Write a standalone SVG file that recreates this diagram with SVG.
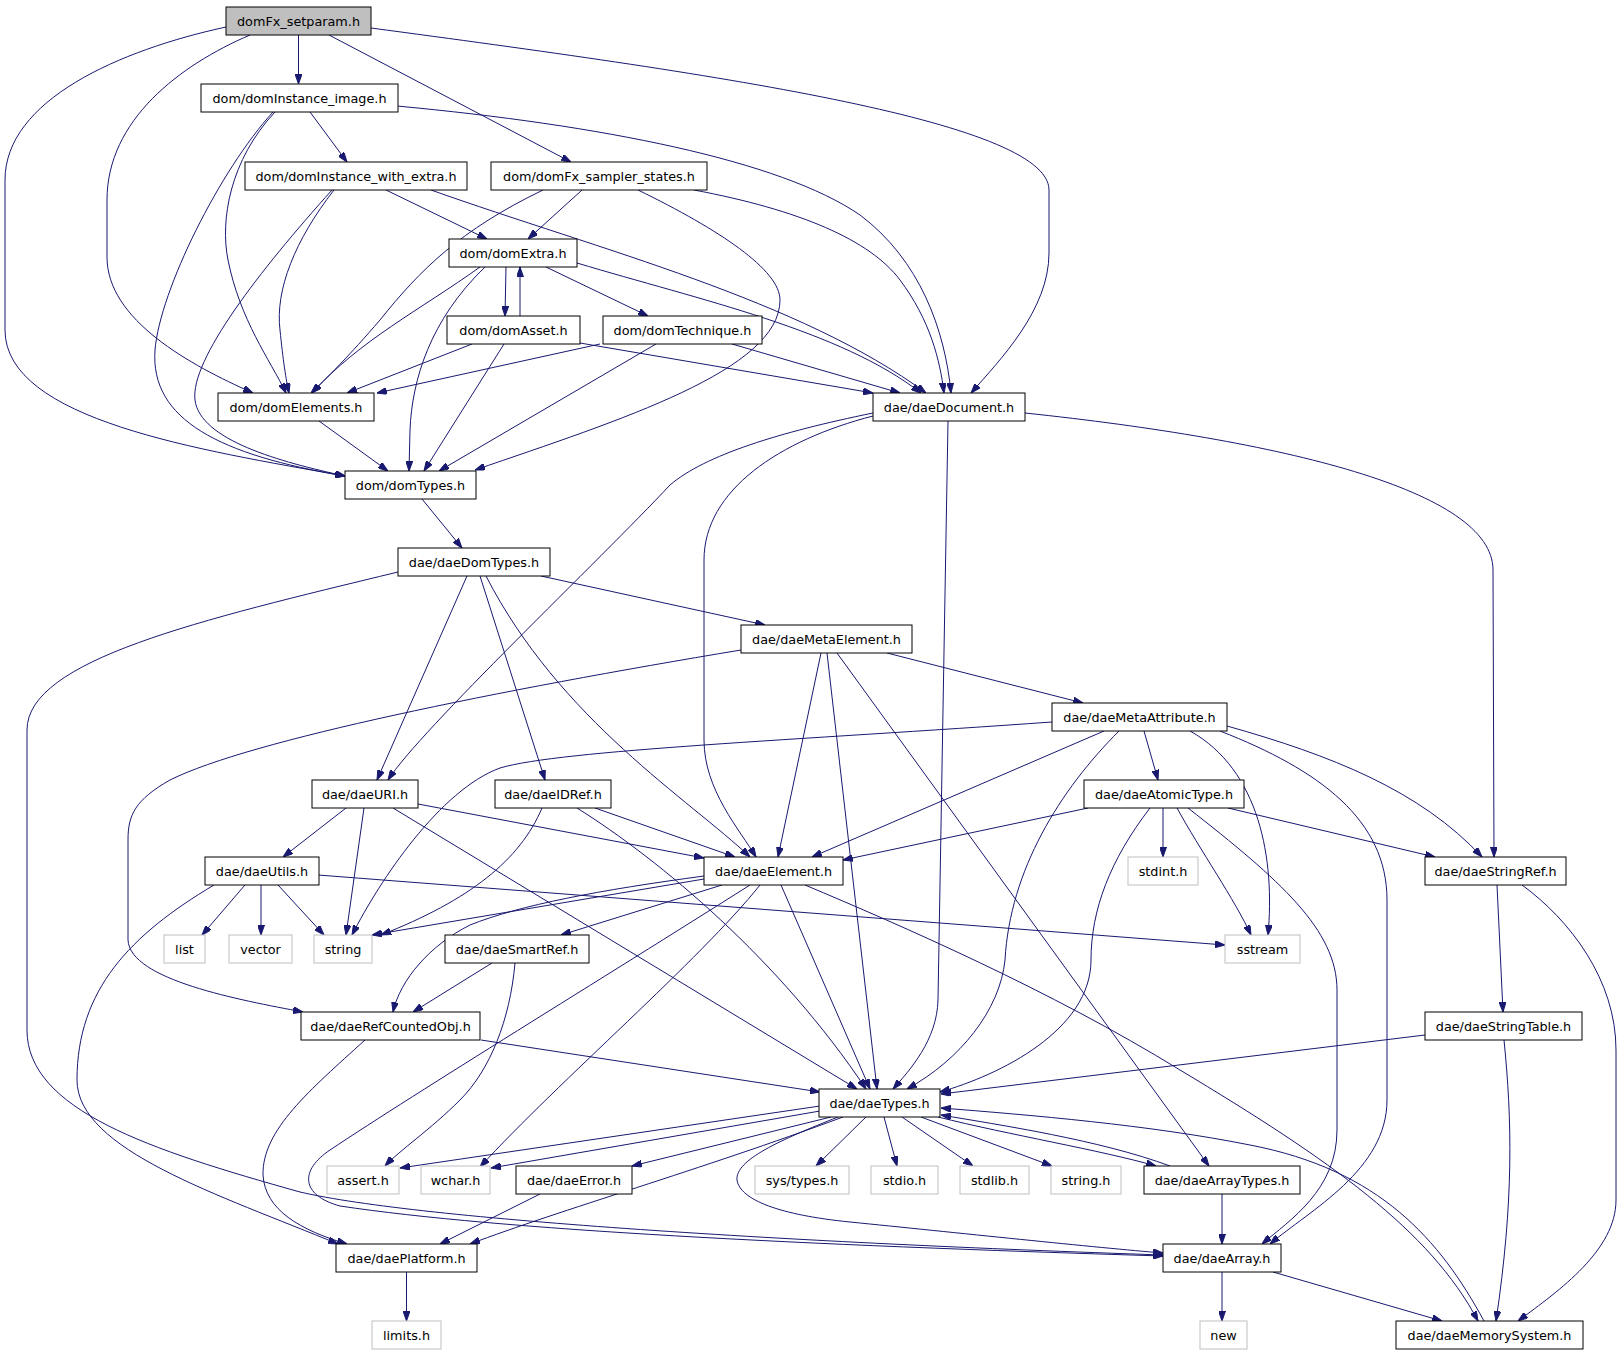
<svg xmlns="http://www.w3.org/2000/svg" width="1623" height="1355" viewBox="0 0 1623 1355">
<style>
.n rect{fill:#ffffff;stroke:#000000;stroke-width:1}
.g rect{fill:#ffffff;stroke:#bfbfbf;stroke-width:1}
.root rect{fill:#bfbfbf;stroke:#000000;stroke-width:1}
text{font-family:"DejaVu Sans","Liberation Sans",sans-serif;font-size:12.8px;fill:#000000;text-anchor:middle}
#edges path{fill:none;stroke:#191970;stroke-width:1;marker-end:url(#arr)}
</style>
<defs>
<marker id="arr" markerUnits="userSpaceOnUse" markerWidth="10" markerHeight="7" refX="10" refY="3.5" orient="auto">
<path d="M0,0 L10,3.5 L0,7 Z" fill="#191970" stroke="#191970" stroke-width="1"/>
</marker>
</defs>
<rect width="1623" height="1355" fill="#ffffff"/>
<g id="edges">
<path d="M298.5,35 L298.5,84"/>
<path d="M329,35 L571,162"/>
<path d="M371,28 C700,72 1049,120 1049,190 L1049,253 C1049,310 1000,360 971,393"/>
<path d="M250,35 C180,65 107,120 107,200 L107,257 C107,320 190,365 253,393"/>
<path d="M226,27 C120,50 5,100 5,180 L5,330 C5,420 200,450 345,476"/>
<path d="M310,112 L347,162"/>
<path d="M397,106 C600,125 780,160 860,215 C920,260 945,330 951,393"/>
<path d="M275,112 C230,160 220,220 228,260 C240,320 270,360 286,393"/>
<path d="M273,112 C220,170 160,290 155,350 C150,420 220,455 345,476"/>
<path d="M386,190 L487,239"/>
<path d="M431,190 C600,250 800,300 926,393"/>
<path d="M334,190 C295,240 275,290 280,330 C283,360 286,380 289,393"/>
<path d="M332,190 C260,270 190,360 195,400 C200,440 280,462 345,476"/>
<path d="M582,190 L528,239"/>
<path d="M543,190 C460,230 420,270 380,320 C350,355 325,380 311,393"/>
<path d="M638,190 C720,230 780,270 780,300 C780,370 620,420 475,470"/>
<path d="M694,190 C800,210 870,240 900,280 C930,320 940,360 944,393"/>
<path d="M506,267 L505,316"/>
<path d="M546,267 L648,316"/>
<path d="M577,263 C700,300 840,330 921,393"/>
<path d="M480,267 C420,310 360,340 312,393"/>
<path d="M485,267 C430,320 412,380 410,430 L409,471"/>
<path d="M520,316 L520,267"/>
<path d="M472,344 L347,393"/>
<path d="M504,344 L424,471"/>
<path d="M580,343 L873,393"/>
<path d="M600,344 L377,393"/>
<path d="M656,344 L439,471"/>
<path d="M732,344 L900,393"/>
<path d="M319,421 L388,471"/>
<path d="M1025,413 C1280,440 1493,490 1493,570 L1494,857"/>
<path d="M948,421 L938,1000 C937,1040 910,1070 893,1089"/>
<path d="M873,416 C780,440 704,490 704,560 L704,740 C704,790 740,830 756,857"/>
<path d="M873,413 C780,432 705,455 670,485 C600,560 420,730 388,780"/>
<path d="M422,499 L462,548"/>
<path d="M541,576 L765,625"/>
<path d="M467,576 L377,780"/>
<path d="M480,576 L545,780"/>
<path d="M486,576 C560,720 690,800 750,857"/>
<path d="M398,572 C200,620 27,660 27,730 L27,1030 C27,1110 150,1150 300,1192 C420,1220 800,1243 1163,1255"/>
<path d="M887,653 L1083,703"/>
<path d="M821,653 L778,857"/>
<path d="M827,653 L877,1089"/>
<path d="M837,653 L1209,1166"/>
<path d="M741,650 C500,690 250,740 170,780 C135,800 128,815 128,840 L128,940 C130,980 240,1000 303,1012"/>
<path d="M1144,731 L1158,780"/>
<path d="M1104,731 L812,857"/>
<path d="M1119,731 C1060,790 1010,870 1005,960 C1000,1010 960,1060 907,1089"/>
<path d="M1052,722 C800,740 560,750 500,768 C440,790 380,880 352,935"/>
<path d="M1190,731 C1260,770 1275,860 1268,935"/>
<path d="M1220,731 C1320,770 1387,820 1387,900 L1387,1100 C1387,1170 1310,1210 1270,1244"/>
<path d="M1227,726 C1330,755 1420,790 1482,857"/>
<path d="M346,808 L283,857"/>
<path d="M364,808 L346,935"/>
<path d="M418,804 L704,858"/>
<path d="M393,808 L857,1089"/>
<path d="M542,808 C520,860 470,900 381,935"/>
<path d="M595,808 L735,857"/>
<path d="M577,808 C660,860 780,960 866,1089"/>
<path d="M1088,808 L843,860"/>
<path d="M1163,808 L1163,857"/>
<path d="M1177,808 C1200,850 1235,900 1251,935"/>
<path d="M1150,808 C1110,860 1091,910 1091,960 C1091,1030 1000,1075 940,1092"/>
<path d="M1188,808 C1280,880 1337,930 1337,990 L1337,1130 C1337,1190 1290,1220 1262,1244"/>
<path d="M1228,808 L1435,857"/>
<path d="M245,885 L202,935"/>
<path d="M261,885 L261,935"/>
<path d="M278,885 L324,935"/>
<path d="M318,875 L1225,945"/>
<path d="M214,885 C130,935 77,990 77,1080 C77,1150 220,1195 338,1244"/>
<path d="M704,879 L372,935"/>
<path d="M704,876 C600,890 520,905 470,925 C430,945 400,980 393,1012"/>
<path d="M722,885 L561,935"/>
<path d="M781,885 L870,1089"/>
<path d="M760,885 C700,960 560,1080 480,1167"/>
<path d="M750,885 C600,980 420,1090 330,1150 C300,1170 300,1195 340,1206 C500,1230 800,1245 1163,1256"/>
<path d="M805,885 C900,925 1050,990 1180,1070 C1330,1160 1430,1230 1478,1321"/>
<path d="M492,963 L413,1012"/>
<path d="M515,963 C510,1020 490,1070 460,1100 C430,1130 400,1150 385,1166"/>
<path d="M1497,885 L1503,1012"/>
<path d="M1522,885 C1570,920 1616,980 1616,1050 L1616,1200 C1616,1250 1560,1290 1518,1321"/>
<path d="M481,1040 L820,1092"/>
<path d="M365,1040 C310,1090 262,1130 263,1175 C265,1210 300,1230 347,1244"/>
<path d="M1425,1035 L941,1094"/>
<path d="M1504,1040 C1512,1120 1514,1200 1496,1321"/>
<path d="M820,1106 L400,1168"/>
<path d="M820,1111 L491,1168"/>
<path d="M831,1117 L632,1166"/>
<path d="M843,1117 C700,1170 560,1210 470,1244"/>
<path d="M866,1117 L816,1166"/>
<path d="M884,1117 L897,1166"/>
<path d="M902,1117 L973,1166"/>
<path d="M921,1117 L1052,1166"/>
<path d="M938,1117 C1010,1135 1100,1150 1156,1166"/>
<path d="M838,1117 C780,1140 735,1160 737,1180 C740,1200 780,1215 850,1222 C950,1232 1100,1248 1163,1253"/>
<path d="M1170,1166 C1100,1140 1000,1125 941,1115"/>
<path d="M1222,1194 L1222,1244"/>
<path d="M540,1194 L440,1244"/>
<path d="M1222,1272 L1222,1321"/>
<path d="M1273,1272 L1442,1321"/>
<path d="M1484,1321 C1440,1240 1380,1170 1250,1145 C1150,1125 1030,1115 941,1108"/>
<path d="M406.5,1272 L406.5,1321"/>
</g>
<g id="node0" class="root"><rect x="226" y="7" width="145" height="28"/><text x="298.5" y="25.5">domFx_setparam.h</text></g>
<g id="node1" class="n"><rect x="201" y="84" width="197" height="28"/><text x="299.5" y="102.5">dom/domInstance_image.h</text></g>
<g id="node2" class="n"><rect x="245" y="162" width="222" height="28"/><text x="356" y="180.5">dom/domInstance_with_extra.h</text></g>
<g id="node3" class="n"><rect x="491" y="162" width="216" height="28"/><text x="599" y="180.5">dom/domFx_sampler_states.h</text></g>
<g id="node4" class="n"><rect x="449" y="239" width="128" height="28"/><text x="513" y="257.5">dom/domExtra.h</text></g>
<g id="node5" class="n"><rect x="447" y="316" width="133" height="28"/><text x="513.5" y="334.5">dom/domAsset.h</text></g>
<g id="node6" class="n"><rect x="603" y="316" width="159" height="28"/><text x="682.5" y="334.5">dom/domTechnique.h</text></g>
<g id="node7" class="n"><rect x="218" y="393" width="156" height="28"/><text x="296" y="411.5">dom/domElements.h</text></g>
<g id="node8" class="n"><rect x="873" y="393" width="152" height="28"/><text x="949" y="411.5">dae/daeDocument.h</text></g>
<g id="node9" class="n"><rect x="345" y="471" width="131" height="28"/><text x="410.5" y="489.5">dom/domTypes.h</text></g>
<g id="node10" class="n"><rect x="398" y="548" width="152" height="28"/><text x="474" y="566.5">dae/daeDomTypes.h</text></g>
<g id="node11" class="n"><rect x="741" y="625" width="171" height="28"/><text x="826.5" y="643.5">dae/daeMetaElement.h</text></g>
<g id="node12" class="n"><rect x="1052" y="703" width="175" height="28"/><text x="1139.5" y="721.5">dae/daeMetaAttribute.h</text></g>
<g id="node13" class="n"><rect x="312" y="780" width="106" height="28"/><text x="365" y="798.5">dae/daeURI.h</text></g>
<g id="node14" class="n"><rect x="495" y="780" width="116" height="28"/><text x="553" y="798.5">dae/daeIDRef.h</text></g>
<g id="node15" class="n"><rect x="1084" y="780" width="160" height="28"/><text x="1164" y="798.5">dae/daeAtomicType.h</text></g>
<g id="node16" class="n"><rect x="205" y="857" width="114" height="28"/><text x="262" y="875.5">dae/daeUtils.h</text></g>
<g id="node17" class="n"><rect x="704" y="857" width="139" height="28"/><text x="773.5" y="875.5">dae/daeElement.h</text></g>
<g id="node18" class="g"><rect x="1128" y="857" width="70" height="28"/><text x="1163" y="875.5">stdint.h</text></g>
<g id="node19" class="n"><rect x="1425" y="857" width="141" height="28"/><text x="1495.5" y="875.5">dae/daeStringRef.h</text></g>
<g id="node20" class="g"><rect x="164" y="935" width="41" height="28"/><text x="184.5" y="953.5">list</text></g>
<g id="node21" class="g"><rect x="229" y="935" width="63" height="28"/><text x="260.5" y="953.5">vector</text></g>
<g id="node22" class="g"><rect x="314" y="935" width="58" height="28"/><text x="343" y="953.5">string</text></g>
<g id="node23" class="n"><rect x="445" y="935" width="144" height="28"/><text x="517" y="953.5">dae/daeSmartRef.h</text></g>
<g id="node24" class="g"><rect x="1225" y="935" width="75" height="28"/><text x="1262.5" y="953.5">sstream</text></g>
<g id="node25" class="n"><rect x="301" y="1012" width="179" height="28"/><text x="390.5" y="1030.5">dae/daeRefCountedObj.h</text></g>
<g id="node26" class="n"><rect x="1425" y="1012" width="157" height="28"/><text x="1503.5" y="1030.5">dae/daeStringTable.h</text></g>
<g id="node27" class="n"><rect x="819" y="1089" width="121" height="28"/><text x="879.5" y="1107.5">dae/daeTypes.h</text></g>
<g id="node28" class="g"><rect x="327" y="1166" width="72" height="28"/><text x="363" y="1184.5">assert.h</text></g>
<g id="node29" class="g"><rect x="421" y="1166" width="69" height="28"/><text x="455.5" y="1184.5">wchar.h</text></g>
<g id="node30" class="n"><rect x="516" y="1166" width="116" height="28"/><text x="574" y="1184.5">dae/daeError.h</text></g>
<g id="node31" class="g"><rect x="755" y="1166" width="94" height="28"/><text x="802" y="1184.5">sys/types.h</text></g>
<g id="node32" class="g"><rect x="871" y="1166" width="67" height="28"/><text x="904.5" y="1184.5">stdio.h</text></g>
<g id="node33" class="g"><rect x="960" y="1166" width="69" height="28"/><text x="994.5" y="1184.5">stdlib.h</text></g>
<g id="node34" class="g"><rect x="1051" y="1166" width="70" height="28"/><text x="1086" y="1184.5">string.h</text></g>
<g id="node35" class="n"><rect x="1144" y="1166" width="156" height="28"/><text x="1222" y="1184.5">dae/daeArrayTypes.h</text></g>
<g id="node36" class="n"><rect x="336" y="1244" width="141" height="28"/><text x="406.5" y="1262.5">dae/daePlatform.h</text></g>
<g id="node37" class="n"><rect x="1163" y="1244" width="118" height="28"/><text x="1222" y="1262.5">dae/daeArray.h</text></g>
<g id="node38" class="g"><rect x="372" y="1321" width="69" height="28"/><text x="406.5" y="1339.5">limits.h</text></g>
<g id="node39" class="g"><rect x="1200" y="1321" width="47" height="28"/><text x="1223.5" y="1339.5">new</text></g>
<g id="node40" class="n"><rect x="1396" y="1321" width="187" height="28"/><text x="1489.5" y="1339.5">dae/daeMemorySystem.h</text></g>
</svg>
